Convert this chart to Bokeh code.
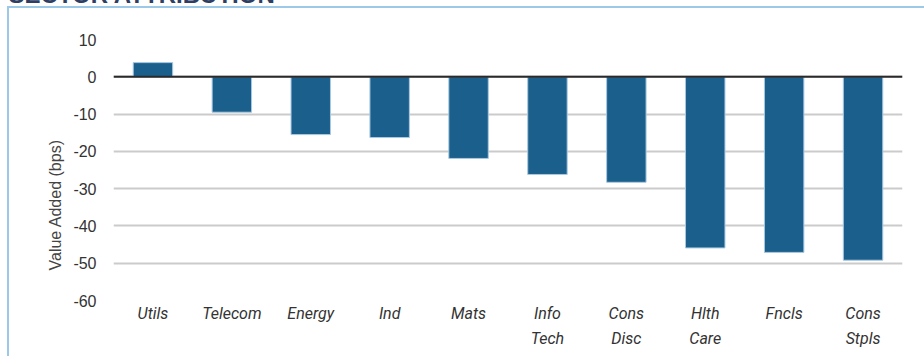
from bokeh.plotting import figure
from bokeh.models import (ColumnDataSource, FixedTicker, Span, Range1d, FactorRange,
                          Title, InlineStyleSheet)
from bokeh.embed import file_html
from bokeh.resources import INLINE

sectors_line1 = ["Utils", "Telecom", "Energy", "Ind", "Mats", "Info", "Cons", "Hlth", "Fncls", "Cons"]
sectors_line2 = ["", "", "", "", "", "Tech", "Disc", "Care", " ", "Stpls"]
value_added = [3.8, -9.5, -15.5, -16.3, -21.9, -26.2, -28.3, -45.9, -47.1, -49.2]
y_ticks = [10, 0, -10, -20, -30, -40, -50, -60]
y_tick_labels = ["10", "0", "-10", "-20", "-30", "-40", "-50", "-60"]
title_text = "SECTOR ATTRIBUTION"
y_label = "Value Added (bps)"

factors = list(zip(sectors_line2, sectors_line1))
src = ColumnDataSource(data=dict(x=factors, top=value_added))

K = 60
xr = FactorRange(*factors, group_padding=0, factor_padding=0, range_padding=0)
p = figure(x_range=xr, y_range=Range1d(-60, 10), width=924, height=356 + K,
           output_backend="svg", toolbar_location=None,
           min_border_left=113, min_border_right=22, min_border_top=39 + K, min_border_bottom=56)
p.outline_line_color = None
p.background_fill_color = "white"
p.border_fill_color = "white"

p.vbar(x="x", top="top", bottom=0, width=0.5, source=src,
       fill_color="#1B5F8C", line_color="#A9C9E2", line_width=1)

p.add_layout(Span(location=0, dimension="width", line_color="#2A2A2A", line_width=2))

p.xgrid.grid_line_color = None
p.ygrid.grid_line_color = "#CBCBCB"
p.ygrid.grid_line_width = 2
p.yaxis.ticker = FixedTicker(ticks=y_ticks)
p.yaxis.major_label_overrides = dict(zip(y_ticks, y_tick_labels))

for ax in (p.xaxis, p.yaxis):
    ax.axis_line_color = None
    ax.major_tick_line_color = None
    ax.minor_tick_line_color = None
    ax.major_tick_out = 0
    ax.major_tick_in = 0
    ax.major_label_text_color = "#333333"
    ax.major_label_text_font_size = "16px"

p.yaxis.major_label_text_font = "Liberation Sans"
p.yaxis.major_label_standoff = 17

xa = p.xaxis[0]
xa.major_label_text_font = "Roboto"
xa.major_label_text_font_style = "italic"
xa.major_label_standoff = 3
xa.group_text_font = "Roboto"
xa.group_text_font_style = "italic"
xa.group_text_font_size = "16px"
xa.group_text_color = "#333333"
xa.separator_line_color = None

yt = Title(text=y_label, align="left", offset=30, vertical_align="middle",
           text_font="Liberation Sans", text_font_size="16px", text_color="#444444",
           text_font_style="normal", standoff=12)
p.add_layout(yt, "left")

p.title.text = title_text
p.title.text_font = "Liberation Sans"
p.title.text_font_size = "24px"
p.title.text_font_style = "bold"
p.title.text_color = "#2E3F63"
p.title.align = "left"
p.title.offset = -105
p.title.standoff = 64

p.styles = {"margin-top": f"-{K}px"}
p.stylesheets = [InlineStyleSheet(css=(
    ":host { position: relative; }"
    ":host::after { content: ''; position: absolute; left: 7px; top: %dpx; right: 0; bottom: 0;"
    " border-left: 2px solid #9DC9E8; border-top: 2px solid #9DC9E8; pointer-events: none; }" % (K + 6)))]

open("out.html", "w").write(file_html(p, INLINE))
